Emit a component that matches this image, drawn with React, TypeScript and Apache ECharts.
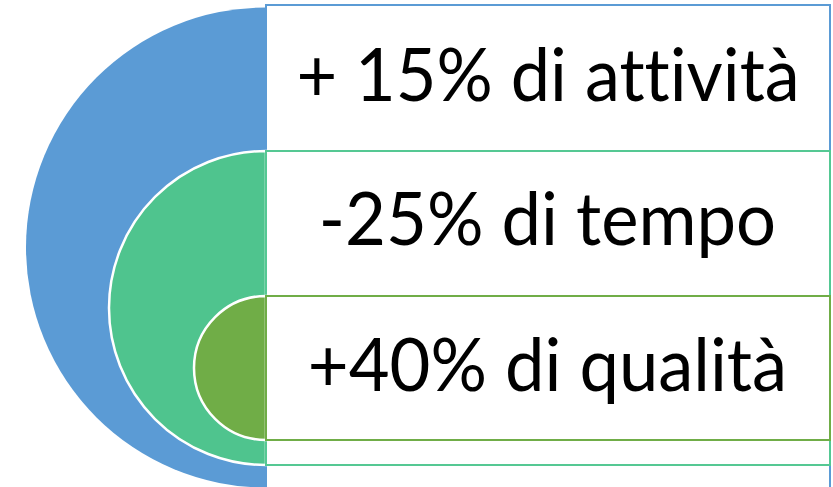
import React, { useEffect, useRef } from "react";
import * as echarts from "echarts";

// Content
const labels = ["+ 15% di attività", "-25% di tempo", "+40% di qualità"];
const fillColors = ["#5B9BD5", "#4FC48E", "#70AD47"];
const borderColors = ["#5B9BD5", "#55C893", "#70AD47"];

// Layout (pixels)
const W = 833;
const H = 487;
const CX = 266;
const RECT_RIGHT = 830;
const circles = [
  { top: 7.5, bottom: 487.5 },
  { top: 151, bottom: 465 },
  { top: 296, bottom: 440 },
];
const rects = [
  { top: 5, bottom: 495 },
  { top: 151, bottom: 465 },
  { top: 296, bottom: 440 },
];
const textBoxes = [
  { left: 299.3, right: 796.7, baseline: 100.7 },
  { left: 322.7, right: 774, baseline: 245 },
  { left: 310.7, right: 783, baseline: 390.7 },
];
const FONT_FAMILY = "Lato";
const FONT_SIZE = 73;

export default function App() {
  const ref = useRef<HTMLDivElement>(null);
  useEffect(() => {
    if (!ref.current) return;
    const chart = echarts.init(ref.current, null, { renderer: "svg" });
    const canvas = document.createElement("canvas");
    const ctx = canvas.getContext("2d")!;
    const font = `${FONT_SIZE}px ${FONT_FAMILY}`;
    ctx.font = font;

    const elements: any[] = [];
    for (let i = 0; i < labels.length; i++) {
      const c = circles[i];
      const r = (c.bottom - c.top) / 2;
      const cy = (c.top + c.bottom) / 2;
      elements.push({
        type: "sector",
        z: i * 10,
        shape: { cx: CX, cy, r, r0: 0, startAngle: Math.PI / 2, endAngle: (3 * Math.PI) / 2, clockwise: true },
        style: { fill: fillColors[i], stroke: i === 0 ? null : "#ffffff", lineWidth: i === 0 ? 0 : 2.5 },
      });
      const rc = rects[i];
      elements.push({
        type: "rect",
        z: i * 10 + 1,
        shape: { x: CX, y: rc.top, width: RECT_RIGHT - CX, height: rc.bottom - rc.top },
        style: { fill: "#ffffff", stroke: borderColors[i], lineWidth: 2 },
      });
    }
    for (let i = 0; i < labels.length; i++) {
      const tb = textBoxes[i];
      // measure without ligatures (rendered text has ligatures disabled via CSS)
      const m = ctx.measureText(labels[i].replace(/t(?=t)/g, "t\u200C"));
      const abl = m.actualBoundingBoxLeft;
      const abr = m.actualBoundingBoxRight;
      const ink = abl + abr;
      const s = (tb.right - tb.left) / ink;
      const fba = (m as any).fontBoundingBoxAscent ?? FONT_SIZE * 0.987;
      const fbd = (m as any).fontBoundingBoxDescent ?? FONT_SIZE * 0.213;
      const centralOffset = (fba - fbd) / 2;
      const x0 = tb.left + abl * s;
      elements.push({
        type: "text",
        z: 100,
        x: x0,
        y: tb.baseline - centralOffset,
        scaleX: s,
        scaleY: 1,
        originX: 0,
        originY: 0,
        style: {
          text: labels[i],
          x: 0,
          y: 0,
          fill: "#000000",
          font,
          align: "left",
          verticalAlign: "middle",
        },
      });
    }

    chart.setOption({
      animation: false,
      backgroundColor: "#ffffff",
      graphic: { elements },
    });
    return () => chart.dispose();
  }, []);
  return (
    <>
      <style>{`svg text, svg tspan { font-variant-ligatures: none !important; font-feature-settings: "liga" 0, "clig" 0, "dlig" 0 !important; }`}</style>
      <div
        ref={ref}
        style={{ position: "absolute", left: 0, top: 0, width: W, height: H }}
      />
    </>
  );
}
